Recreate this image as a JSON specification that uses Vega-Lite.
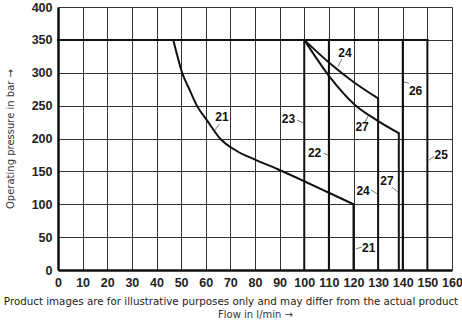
{
  "$schema": "https://vega.github.io/schema/vega-lite/v6.json",
  "width": 394,
  "height": 263,
  "autosize": {"type": "none"},
  "padding": {"left": 58, "top": 7, "right": 10, "bottom": 50},
  "background": "white",
  "config": {
    "view": {"stroke": null},
    "axis": {"grid": true, "gridColor": "#333", "gridWidth": 1, "gridOpacity": 1, "ticks": false, "domain": true, "domainColor": "#111", "domainWidth": 2.5, "labelFont": "Liberation Sans", "labelFontWeight": "bold", "labelFontSize": 12.5, "labelColor": "#222", "labelPadding": 6, "labelFlush": false, "labelOverlap": false, "titleFont": "DejaVu Sans", "titleFontWeight": "normal", "titleFontSize": 10, "titleColor": "#333", "titlePadding": 16},
    "axisX": {"titlePadding": 21}
  },
  "title": {"text": "Product images are for illustrative purposes only and may differ from the actual product", "orient": "bottom", "anchor": "middle", "frame": "group", "font": "DejaVu Sans", "fontSize": 10.3, "fontWeight": "normal", "color": "#222", "offset": 0, "dx": -24, "dy": -23},
  "datasets": {
    "curves": [
      {"s": "21", "i": 0, "x": 46.8, "y": 350}, {"s": "21", "i": 1, "x": 47.9, "y": 334}, {"s": "21", "i": 2, "x": 50.4, "y": 300}, {"s": "21", "i": 3, "x": 53.2, "y": 276}, {"s": "21", "i": 4, "x": 56.4, "y": 250}, {"s": "21", "i": 5, "x": 60.8, "y": 226}, {"s": "21", "i": 6, "x": 65.8, "y": 200}, {"s": "21", "i": 7, "x": 72.6, "y": 181}, {"s": "21", "i": 8, "x": 80, "y": 168}, {"s": "21", "i": 9, "x": 88.8, "y": 154}, {"s": "21", "i": 10, "x": 100, "y": 135}, {"s": "21", "i": 11, "x": 110, "y": 117.5}, {"s": "21", "i": 12, "x": 120, "y": 100},
      {"s": "24", "i": 0, "x": 100, "y": 350}, {"s": "24", "i": 1, "x": 110.5, "y": 314}, {"s": "24", "i": 2, "x": 120, "y": 286}, {"s": "24", "i": 3, "x": 130, "y": 261},
      {"s": "27", "i": 0, "x": 100, "y": 350}, {"s": "27", "i": 1, "x": 110.5, "y": 293}, {"s": "27", "i": 2, "x": 120.6, "y": 251}, {"s": "27", "i": 3, "x": 129.4, "y": 228}, {"s": "27", "i": 4, "x": 138.4, "y": 208}
    ],
    "lines": [
      {"s": "top", "i": 0, "x": 0, "y": 350}, {"s": "top", "i": 1, "x": 150, "y": 350},
      {"s": "21v", "i": 0, "x": 120, "y": 100}, {"s": "21v", "i": 1, "x": 120, "y": 0},
      {"s": "23", "i": 0, "x": 100, "y": 350}, {"s": "23", "i": 1, "x": 100, "y": 0},
      {"s": "22", "i": 0, "x": 110, "y": 350}, {"s": "22", "i": 1, "x": 110, "y": 0},
      {"s": "24v", "i": 0, "x": 130, "y": 261}, {"s": "24v", "i": 1, "x": 130, "y": 0},
      {"s": "27v", "i": 0, "x": 138.4, "y": 208}, {"s": "27v", "i": 1, "x": 138.4, "y": 0},
      {"s": "26", "i": 0, "x": 140, "y": 350}, {"s": "26", "i": 1, "x": 140, "y": 0},
      {"s": "25", "i": 0, "x": 150, "y": 350}, {"s": "25", "i": 1, "x": 150, "y": 0}
    ],
    "labels": [
      {"t": "21", "x": 66.6, "y": 233, "lx": 65.5, "ly": 222, "lx2": 63.8, "ly2": 213},
      {"t": "23", "x": 93.6, "y": 230, "lx": 97, "ly": 228, "lx2": 99.5, "ly2": 224},
      {"t": "22", "x": 104.2, "y": 178, "lx": 107.8, "ly": 177.5, "lx2": 109.6, "ly2": 175},
      {"t": "24", "x": 116.5, "y": 330, "lx": 115.3, "ly": 321, "lx2": 113.7, "ly2": 309},
      {"t": "26", "x": 145.2, "y": 272, "lx": 142.5, "ly": 284, "lx2": 140.5, "ly2": 286},
      {"t": "27", "x": 123.5, "y": 217, "lx": 124.7, "ly": 225, "lx2": 125.9, "ly2": 234},
      {"t": "25", "x": 155.6, "y": 175, "lx": 152.7, "ly": 173, "lx2": 150.7, "ly2": 167},
      {"t": "27", "x": 133.6, "y": 135, "lx": 135.6, "ly": 126, "lx2": 138, "ly2": 119},
      {"t": "24", "x": 123.9, "y": 120, "lx": 127, "ly": 122, "lx2": 129.5, "ly2": 116},
      {"t": "21", "x": 126.2, "y": 33.5, "lx": 123.4, "ly": 35, "lx2": 121, "ly2": 32}
    ]
  },
  "encoding": {
    "x": {"type": "quantitative", "scale": {"domain": [0, 160], "nice": false},
      "axis": {"values": [0,10,20,30,40,50,60,70,80,90,100,110,120,130,140,150,160], "title": "Flow in l/min →"}},
    "y": {"type": "quantitative", "scale": {"domain": [0, 400], "nice": false},
      "axis": {"values": [0,50,100,150,200,250,300,350,400], "title": "Operating pressure in bar →"}}
  },
  "layer": [
    {
      "data": {"name": "lines"},
      "mark": {"type": "line", "color": "#111", "strokeWidth": 2, "strokeCap": "square"},
      "encoding": {
        "x": {"field": "x", "type": "quantitative"},
        "y": {"field": "y", "type": "quantitative"},
        "detail": {"field": "s"},
        "order": {"field": "i", "type": "quantitative"}
      }
    },
    {
      "data": {"name": "curves"},
      "mark": {"type": "line", "color": "#111", "strokeWidth": 2, "interpolate": "monotone"},
      "encoding": {
        "x": {"field": "x", "type": "quantitative"},
        "y": {"field": "y", "type": "quantitative"},
        "detail": {"field": "s"},
        "order": {"field": "i", "type": "quantitative"}
      }
    },
    {
      "data": {"name": "labels"},
      "mark": {"type": "rule", "color": "#555", "strokeWidth": 0.8},
      "encoding": {
        "x": {"field": "lx", "type": "quantitative"},
        "y": {"field": "ly", "type": "quantitative"},
        "x2": {"field": "lx2"},
        "y2": {"field": "ly2"}
      }
    },
    {
      "data": {"name": "labels"},
      "mark": {"type": "text", "font": "Liberation Sans", "fontWeight": "bold", "fontSize": 12, "color": "#111", "align": "center", "baseline": "middle"},
      "encoding": {
        "x": {"field": "x", "type": "quantitative"},
        "y": {"field": "y", "type": "quantitative"},
        "text": {"field": "t"}
      }
    }
  ]
}
